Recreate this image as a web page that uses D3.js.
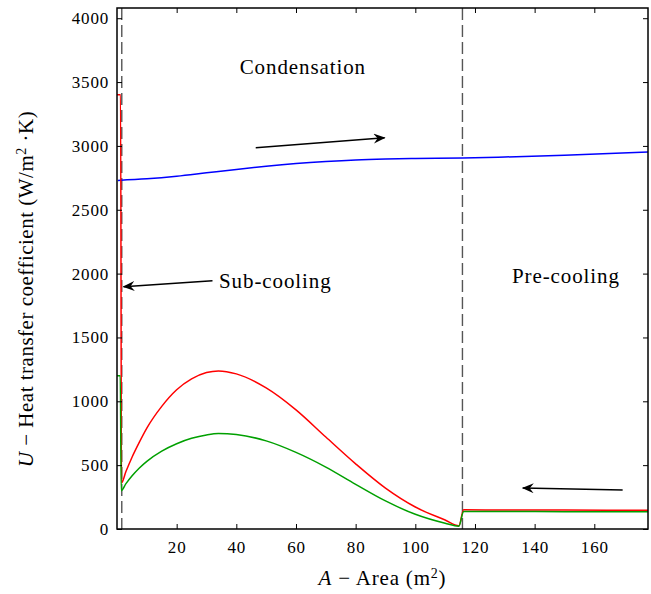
<!DOCTYPE html>
<html>
<head>
<meta charset="utf-8">
<script src="https://cdn.jsdelivr.net/npm/d3@7/dist/d3.min.js"></script>
<style>
  html, body { margin: 0; padding: 0; background: #fff; }
  svg { display: block; }
  text { font-family: "Liberation Serif", "DejaVu Serif", serif; fill: #000; }
</style>
</head>
<body>
<svg id="chart" width="651" height="594"></svg>
<script>
// Heat transfer coefficient along the exchanger area (sub-cooling / condensation / pre-cooling)
const areaRed   = [0, 1.2, 1.5, 3, 5, 7.5, 10, 15, 20, 25, 30, 34, 40, 50, 60, 70, 80, 90, 100, 110, 114.6, 116.2, 130, 150, 178];
const uRed      = [3400, 3400, 360, 450, 560, 680, 790, 960, 1090, 1175, 1225, 1238, 1215, 1105, 933, 720, 510, 320, 172, 70, 25, 150, 149, 148, 147];

const areaGreen = [0, 1.1, 1.4, 3, 5, 7.5, 10, 15, 20, 25, 30, 34, 40, 50, 60, 70, 80, 90, 100, 110, 114.6, 116.2, 130, 150, 178];
const uGreen    = [1200, 1200, 300, 355, 415, 478, 530, 610, 668, 710, 737, 748, 740, 690, 600, 485, 350, 220, 115, 45, 22, 138, 137, 136, 135];

const areaBlue  = [0.3, 10, 20, 30, 40, 50, 60, 70, 80, 90, 100, 115.8, 130, 150, 165, 178];
const uBlue     = [2730, 2742, 2762, 2789, 2816, 2841, 2862, 2878, 2890, 2897, 2901, 2905, 2913, 2927, 2940, 2952];

const regionBounds = [1.6, 115.8];
const xTicks = [20, 40, 60, 80, 100, 120, 140, 160];
const yTicks = [0, 500, 1000, 1500, 2000, 2500, 3000, 3500, 4000];

const regionLabels = [
  { text: "Condensation", a: 62.3, u: 3560, anchor: "middle" },
  { text: "Sub-cooling",  a: 34.2, u: 1890, anchor: "start" },
  { text: "Pre-cooling",  a: 150.5, u: 1930, anchor: "middle" }
];
const arrows = [
  { from: [46.5, 2986], to: [89.7, 3064] },
  { from: [32.0, 1944], to: [2.2, 1897] },
  { from: [169.5, 306], to: [136.0, 321] }
];

const margin = { left: 117, right: 3, top: 8, bottom: 65 };
const W = 651, H = 594;
const svg = d3.select("#chart");

const x = d3.scaleLinear().domain([0, 178]).range([margin.left, W - margin.right]);
const y = d3.scaleLinear().domain([0, 4080]).range([H - margin.bottom, margin.top]);

const defs = svg.append("defs");
defs.append("clipPath").attr("id", "plotClip")
  .append("rect")
  .attr("x", x(0)).attr("y", y(4080))
  .attr("width", x(178) - x(0)).attr("height", y(0) - y(4080));

// Region boundaries
svg.append("g").selectAll("line").data(regionBounds).join("line")
  .attr("x1", d => x(d)).attr("x2", d => x(d))
  .attr("y1", y(4080)).attr("y2", y(0))
  .attr("stroke", "#555").attr("stroke-width", 1.4)
  .attr("stroke-dasharray", "12,5");

// Curves
const line = d3.line().curve(d3.curveMonotoneX);
const series = [
  { a: areaBlue,  u: uBlue,  color: "#0000ff" },
  { a: areaRed,   u: uRed,   color: "#ff0000" },
  { a: areaGreen, u: uGreen, color: "#00a000" }
];
svg.append("g").attr("clip-path", "url(#plotClip)")
  .selectAll("path").data(series).join("path")
  .attr("d", s => line(s.a.map((a, i) => [x(a), y(s.u[i])])))
  .attr("fill", "none")
  .attr("stroke", s => s.color)
  .attr("stroke-width", 1.5);

// Axes with inward ticks on all four sides
const tickLen = 5;
const fmt = d3.format("d");
svg.append("g").attr("transform", `translate(0,${y(0)})`)
  .call(d3.axisBottom(x).tickValues(xTicks).tickSizeInner(-tickLen).tickSizeOuter(0).tickPadding(12).tickFormat(fmt));
svg.append("g").attr("transform", `translate(0,${y(4080)})`)
  .call(d3.axisTop(x).tickValues(xTicks).tickSizeInner(-tickLen).tickSizeOuter(0).tickFormat(""));
svg.append("g").attr("transform", `translate(${x(0)},0)`)
  .call(d3.axisLeft(y).tickValues(yTicks).tickSizeInner(-tickLen).tickSizeOuter(0).tickPadding(8).tickFormat(fmt));
svg.append("g").attr("transform", `translate(${x(178)},0)`)
  .call(d3.axisRight(y).tickValues(yTicks).tickSizeInner(-tickLen).tickSizeOuter(0).tickFormat(""));

svg.selectAll(".domain").remove();
svg.selectAll(".tick line").attr("stroke", "#000").attr("stroke-width", 1);
svg.selectAll(".tick text")
  .attr("font-family", "Liberation Serif, serif")
  .attr("font-size", 17).attr("letter-spacing", 0.8).attr("fill", "#000");

// Frame
svg.append("rect")
  .attr("x", x(0)).attr("y", y(4080))
  .attr("width", x(178) - x(0)).attr("height", y(0) - y(4080))
  .attr("fill", "none").attr("stroke", "#000").attr("stroke-width", 1.5);

// Arrows
defs.append("marker").attr("id", "head")
  .attr("viewBox", "0 0 12 10").attr("refX", 11).attr("refY", 5)
  .attr("markerWidth", 12).attr("markerHeight", 10)
  .attr("markerUnits", "userSpaceOnUse").attr("orient", "auto")
  .append("path").attr("d", "M0,0 L12,5 L0,10 L4,5 Z").attr("fill", "#000");
svg.append("g").selectAll("line").data(arrows).join("line")
  .attr("x1", d => x(d.from[0])).attr("y1", d => y(d.from[1]))
  .attr("x2", d => x(d.to[0])).attr("y2", d => y(d.to[1]))
  .attr("stroke", "#000").attr("stroke-width", 1.5)
  .attr("marker-end", "url(#head)");

// Region labels
svg.append("g").selectAll("text").data(regionLabels).join("text")
  .attr("x", d => x(d.a)).attr("y", d => y(d.u))
  .attr("text-anchor", d => d.anchor)
  .attr("font-size", 21).attr("letter-spacing", 0.9)
  .text(d => d.text);

// Axis titles
const xt = svg.append("text")
  .attr("x", (x(0) + x(178)) / 2).attr("y", 585)
  .attr("text-anchor", "middle").attr("font-size", 21).attr("letter-spacing", 0.8);
xt.append("tspan").attr("font-style", "italic").text("A");
xt.append("tspan").text(" − Area (m");
xt.append("tspan").attr("baseline-shift", "super").attr("font-size", 14).text("2");
xt.append("tspan").text(")");

const yt = svg.append("text")
  .attr("transform", "translate(33,289) rotate(-90)")
  .attr("text-anchor", "middle").attr("font-size", 21).attr("letter-spacing", 0.5);
yt.append("tspan").attr("font-style", "italic").text("U");
yt.append("tspan").text(" − Heat transfer coefficient (W/m");
yt.append("tspan").attr("baseline-shift", "super").attr("font-size", 14).text("2");
yt.append("tspan").text(" ·K)");
</script>
</body>
</html>
